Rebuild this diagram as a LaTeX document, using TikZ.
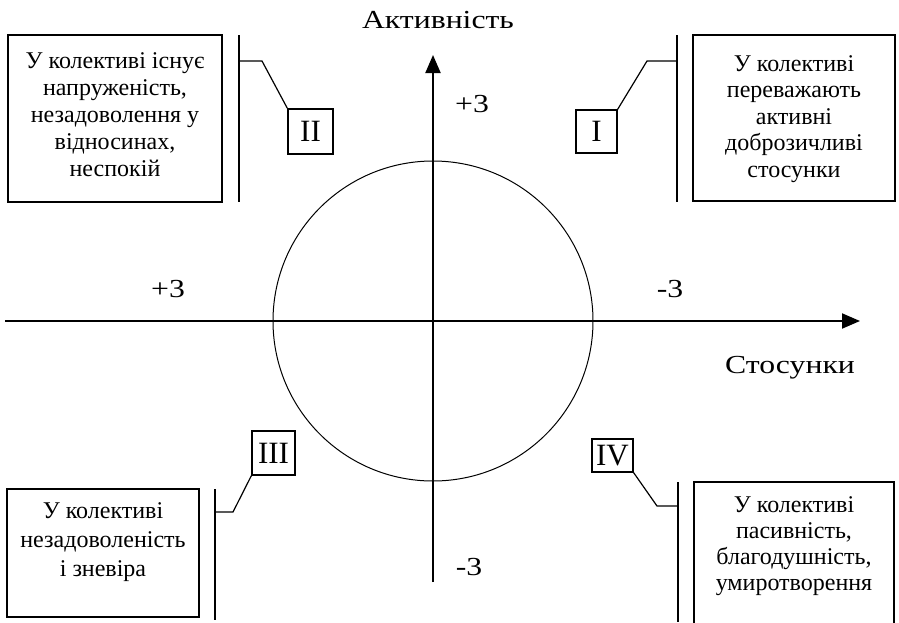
\documentclass[tikz,border=0pt]{standalone}
\usepackage{fontspec}
\setmainfont{Liberation Serif}
\newfontfamily\axisfont{Liberation Serif}[FakeStretch=1.22]
\usetikzlibrary{arrows.meta,positioning}
\tikzset{
  axisline/.style={line width=2pt,-{Triangle[length=18pt,width=15pt]}},
  quadbox/.style={draw,line width=1.3pt,inner sep=0pt},
  quadtext/.style={align=center,inner sep=0pt,font=\fontsize{24}{27}\selectfont},
  numbox/.style={draw,line width=1.2pt,inner sep=0pt,font=\fontsize{31}{31}\selectfont},
  barline/.style={line width=1.3pt},
  leader/.style={line width=1.2pt},
  axislabel/.style={font=\axisfont\fontsize{26}{27}\selectfont,anchor=base}
}
\begin{document}
\begin{tikzpicture}[x=1pt,y=-1pt]
  \clip (0,0) rectangle (899,622);
  \coordinate (o) at (433,321);
  % axes and circle
  \coordinate (xs) at (5,321);
  \coordinate (xe) at (860,321);
  \coordinate (ys) at (433,582);
  \coordinate (ye) at (433,55);
  \draw[line width=1pt] (o) circle[radius=160];
  \draw[axisline] (xs) -- (xe);
  \draw[axisline] (ys) -- (ye);
  \node[axislabel] (act) at (438,28) {Активність};
  \node[axislabel] (rel) at (790,373) {Стосунки};
  \node[axislabel] (ptop) at (472,112) {+3};
  \node[axislabel] (pleft) at (168,297) {+3};
  \node[axislabel] (mright) at (670,297) {-3};
  \node[axislabel] (mbot) at (469,575) {-3};
  % quadrant II
  \node[quadbox,minimum width=214pt,minimum height=167pt] (boxII) at (115,118.5) {};
  \node[quadtext] (txtII) at (115,115) {У колективі існує\\напруженість,\\незадоволення у\\відносинах,\\неспокій};
  \coordinate (barIIa) at (239,35);
  \coordinate (barIIb) at (239,202);
  \draw[barline] (barIIa) -- (barIIb);
  \node[numbox,minimum width=45pt,minimum height=45pt] (numII) at (310.5,131.5) {II};
  \coordinate (legII) at (239,61);
  \draw[leader] (legII) -- ++(23,0) -- (numII.north west);
  % quadrant I
  \node[quadbox,minimum width=202pt,minimum height=166pt] (boxI) at (794,118) {};
  \node[quadtext,font=\fontsize{24}{26.5}\selectfont] (txtI) at (794,119) {У колективі\\переважають\\активні\\доброзичливі\\стосунки};
  \coordinate (barIa) at (677,35);
  \coordinate (barIb) at (677,202);
  \draw[barline] (barIa) -- (barIb);
  \node[numbox,minimum width=41pt,minimum height=43pt] (numI) at (596.5,131.5) {I};
  \coordinate (legI) at (677,61);
  \draw[leader] (legI) -- ++(-30,0) -- (numI.north east);
  % quadrant III
  \node[quadbox,minimum width=192pt,minimum height=128pt] (boxIII) at (103,553) {};
  \node[quadtext,font=\fontsize{24}{29}\selectfont] (txtIII) at (103,542) {У колективі\\незадоволеність\\і зневіра};
  \coordinate (barIIIa) at (215,489);
  \coordinate (barIIIb) at (215,620);
  \draw[barline] (barIIIa) -- (barIIIb);
  \node[numbox,minimum width=43pt,minimum height=44pt] (numIII) at (273.5,453) {III};
  \coordinate (legIII) at (215,512);
  \draw[leader] (legIII) -- ++(18,0) -- (numIII.south west);
  % quadrant IV
  \node[quadbox,minimum width=200pt,minimum height=150pt] (boxIV) at (794,557) {};
  \node[quadtext,font=\fontsize{24}{26}\selectfont] (txtIV) at (794,546.5) {У колективі\\пасивність,\\благодушність,\\умиротворення};
  \coordinate (barIVa) at (678,482);
  \coordinate (barIVb) at (678,622);
  \draw[barline] (barIVa) -- (barIVb);
  \node[numbox,minimum width=41pt,minimum height=33pt] (numIV) at (612.5,455.5) {IV};
  \coordinate (legIV) at (678,506);
  \draw[leader] (legIV) -- ++(-21,0) -- (numIV.south east);
\end{tikzpicture}
\end{document}
